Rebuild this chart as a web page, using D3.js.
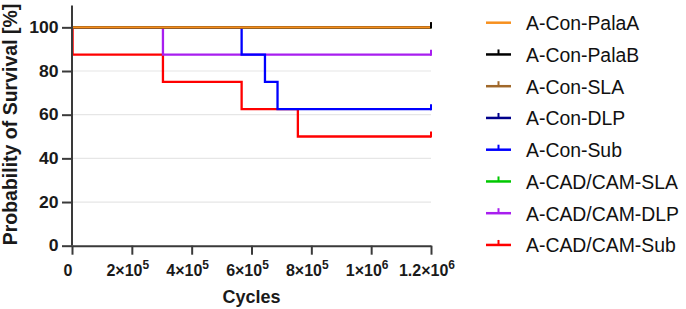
<!DOCTYPE html>
<html><head><meta charset="utf-8">
<script src="https://cdn.jsdelivr.net/npm/d3@7"></script>
<style>body{margin:0;background:#fff}svg{display:block}</style></head>
<body><svg id="c" width="686" height="309"></svg>
<script>
// ---- data ----
const seriesNames = ["A-Con-PalaA","A-Con-PalaB","A-Con-SLA","A-Con-DLP","A-Con-Sub","A-CAD/CAM-SLA","A-CAD/CAM-DLP","A-CAD/CAM-Sub"];
const seriesColors = ["#F7901E","#000000","#A0682A","#00008B","#0000FF","#00C800","#A81EEF","#FF0000"];
const seriesCensored = [false,true,true,true,true,true,true,true];
const timesPalaA = [0, 1200000];            const survPalaA = [100, 100];
const timesPalaB = [0, 1200000];            const survPalaB = [100, 100];
const timesConSLA = [0, 1200000];           const survConSLA = [100, 100];
const timesConDLP = [0, 1200000];           const survConDLP = [100, 100];
const timesConSub = [0, 567000, 645000, 687000, 1200000];  const survConSub = [100, 87.5, 75, 62.5, 62.5];
const timesCadSLA = [0, 1200000];           const survCadSLA = [100, 100];
const timesCadDLP = [0, 304000, 1200000];   const survCadDLP = [100, 87.5, 87.5];
const timesCadSub = [0, 2000, 304000, 567000, 755000, 1200000]; const survCadSub = [100, 87.5, 75, 62.5, 50, 50];
const seriesTimes = [timesPalaA,timesPalaB,timesConSLA,timesConDLP,timesConSub,timesCadSLA,timesCadDLP,timesCadSub];
const seriesSurv = [survPalaA,survPalaB,survConSLA,survConDLP,survConSub,survCadSLA,survCadDLP,survCadSub];
const xTicks = [0, 200000, 400000, 600000, 800000, 1000000, 1200000];
const xTickBase = ["0","2×10","4×10","6×10","8×10","1×10","1.2×10"];
const xTickExp = ["","5","5","5","5","6","6"];
const yTicks = [0, 20, 40, 60, 80, 100];
const xTitle = "Cycles";
const yTitle = "Probability of Survival [%]";

// ---- layout ----
const svg = d3.select("#c");
const font = "'Liberation Sans', Arial, sans-serif";
const x = d3.scaleLinear().domain([0, 1200000]).range([72, 431]);
const y = d3.scaleLinear().domain([0, 110]).range([245.7, 5.5]);

// grid
svg.append("g").selectAll("line").data(yTicks.filter(d => d > 0)).join("line")
  .attr("x1", x(0)).attr("x2", x(1200000))
  .attr("y1", d => y(d)).attr("y2", d => y(d))
  .attr("stroke", "#e6e6e6").attr("stroke-width", 1.2);

// series (first series on top)
const line = d3.line().curve(d3.curveStepAfter);
const order = d3.range(seriesNames.length).reverse();
const gS = svg.append("g");
order.forEach(i => {
  const pts = seriesTimes[i].map((t, k) => [x(t), y(seriesSurv[i][k])]);
  gS.append("path").attr("d", line(pts)).attr("fill", "none")
    .attr("stroke", seriesColors[i]).attr("stroke-width", 2.3);
});
order.forEach(i => {
  if (!seriesCensored[i]) return;
  const n = seriesTimes[i].length - 1;
  const px = x(seriesTimes[i][n]), py = y(seriesSurv[i][n]);
  gS.append("line").attr("x1", px).attr("x2", px).attr("y1", py + 1).attr("y2", py - 5)
    .attr("stroke", seriesColors[i]).attr("stroke-width", 2);
});

// axes
const axisColor = "#3a3a3a";
const gx = svg.append("g").attr("transform", `translate(0,${y(0)})`)
  .call(d3.axisBottom(x).tickValues(xTicks).tickSize(9).tickSizeOuter(0).tickFormat(""));
const gy = svg.append("g").attr("transform", `translate(${x(0)},0)`)
  .call(d3.axisLeft(y).tickValues(yTicks).tickSize(10).tickSizeOuter(0).tickFormat(""));
[gx, gy].forEach(g => {
  g.select(".domain").attr("stroke", axisColor).attr("stroke-width", 2);
  g.selectAll(".tick line").attr("stroke", axisColor).attr("stroke-width", 2);
});
gy.select(".domain").attr("d", `M0,${y(110)}V${y(0)}`);

// y tick labels
svg.append("g").selectAll("text").data(yTicks).join("text")
  .attr("x", 58.5).attr("y", d => y(d) + 5.6)
  .attr("text-anchor", "end").attr("font-family", font).attr("font-weight", "bold")
  .attr("font-size", 16).attr("fill", "#1a1a1a")
  .attr("transform", `translate(58.5,0) scale(1.1,1) translate(-58.5,0)`)
  .text(d => d);

// x tick labels
const xl = svg.append("g").selectAll("text").data(xTicks).join("text")
  .attr("x", (d) => x(d) - 4).attr("y", 276)
  .attr("text-anchor", "middle").attr("font-family", font).attr("font-weight", "bold")
  .attr("font-size", 16).attr("fill", "#1a1a1a");
xl.each(function(d, i) {
  const t = d3.select(this);
  t.append("tspan").text(xTickBase[i]);
  if (xTickExp[i]) t.append("tspan").attr("dy", -7).attr("font-size", 12).text(xTickExp[i]);
});

// titles
svg.append("text").attr("x", x(600000)).attr("y", 303)
  .attr("text-anchor", "middle").attr("font-family", font).attr("font-weight", "bold")
  .attr("font-size", 18).attr("fill", "#1a1a1a").text(xTitle);
svg.append("text").attr("transform", "translate(16.5,124.5) rotate(-90)")
  .attr("text-anchor", "middle").attr("font-family", font).attr("font-weight", "bold")
  .attr("font-size", 19.5).attr("fill", "#1a1a1a").text(yTitle);

// legend
const lg = svg.append("g");
seriesNames.forEach((name, i) => {
  const ly = 22.7 + 31.75 * i;
  lg.append("line").attr("x1", 486).attr("x2", 511).attr("y1", ly).attr("y2", ly)
    .attr("stroke", seriesColors[i]).attr("stroke-width", 2.5);
  if (seriesCensored[i]) lg.append("line").attr("x1", 498.5).attr("x2", 498.5)
    .attr("y1", ly).attr("y2", ly - 5).attr("stroke", seriesColors[i]).attr("stroke-width", 2);
  lg.append("text").attr("x", 526).attr("y", ly + 7.3)
    .attr("font-family", font).attr("font-size", 19.4).attr("fill", "#111").text(name);
});
</script></body></html>
